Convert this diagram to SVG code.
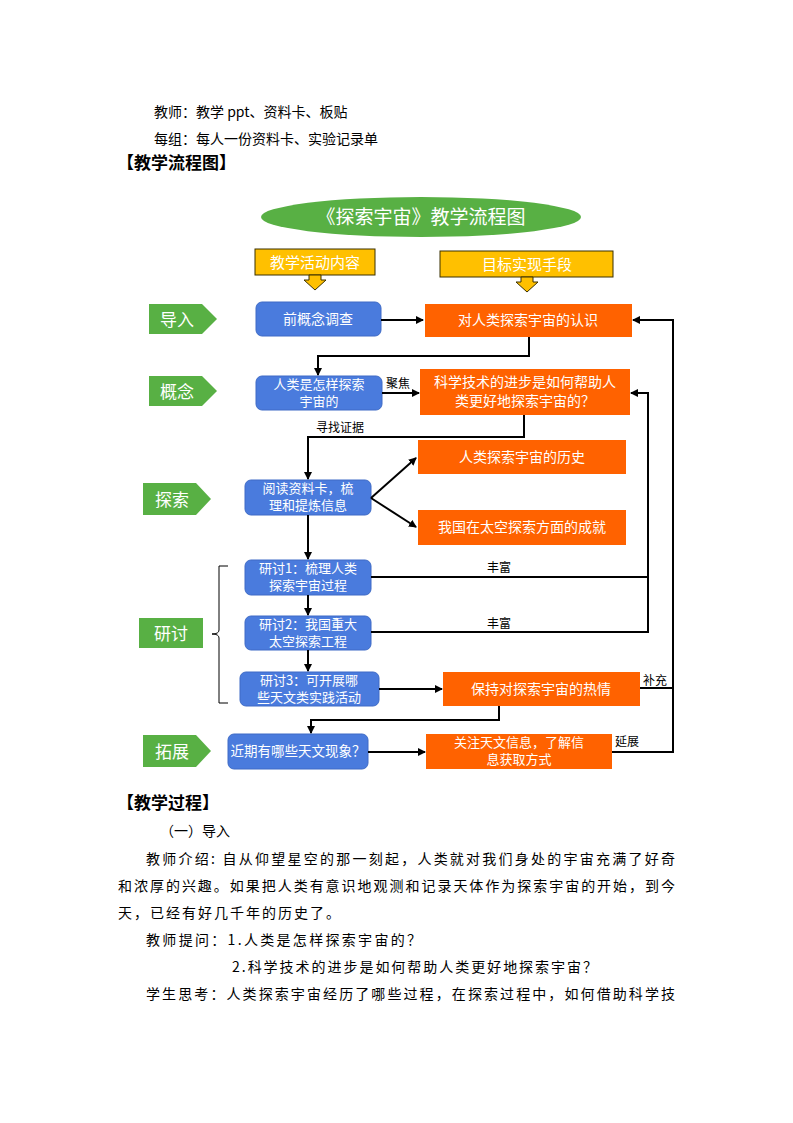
<svg xmlns="http://www.w3.org/2000/svg" width="793" height="1123" viewBox="0 0 793 1123">
<defs>
<style>
.body{font-family:"Noto Sans CJK SC","Liberation Serif",serif;font-size:14px;fill:#000}
.head{font-family:"Noto Sans CJK SC",sans-serif;font-size:17px;font-weight:bold;fill:#000}
.w{font-family:"Noto Sans CJK SC",sans-serif;fill:#fff;text-anchor:middle}
.t{font-size:14px}
.t2{font-size:13px}
.lbl{font-family:"Noto Sans CJK SC",sans-serif;font-size:12px;fill:#000}
.blue{fill:#4A7BDD;stroke:#3E6BC6;stroke-width:1}
.org{fill:#FF6200}
.grn{fill:#58B044}
.yel{fill:#FFC000;stroke:#3a3000;stroke-width:1}
.ln{fill:none;stroke:#000;stroke-width:2}
</style>
<marker id="ah" markerWidth="8" markerHeight="8" refX="7" refY="4" orient="auto" markerUnits="userSpaceOnUse">
<path d="M0,0 L8,4 L0,8 Z" fill="#000"/>
</marker>
</defs>
<rect width="793" height="1123" fill="#fff"/>

<text class="body" x="154" y="117">教师：教学 ppt、资料卡、板贴</text>
<text class="body" x="154" y="144">每组：每人一份资料卡、实验记录单</text>
<text class="head" x="117" y="169">【教学流程图】</text>

<g id="title"><ellipse cx="421" cy="217" rx="160" ry="20" class="grn"/><text class="w" x="421" y="224" font-size="19">《探索宇宙》教学流程图</text></g>

<g id="hdr1"><rect x="255" y="249" width="120" height="26" class="yel"/><text class="w" x="315" y="268" font-size="15">教学活动内容</text>
<path d="M309,275 h12 v5 h5 l-11,10 l-11,-10 h5 z" fill="#FFC000" stroke="#3a3000" stroke-width="1"/></g>
<g id="hdr2"><rect x="440" y="251" width="173" height="26" class="yel"/><text class="w" x="527" y="270" font-size="15">目标实现手段</text>
<path d="M521,277 h12 v5 h5 l-11,10 l-11,-10 h5 z" fill="#FFC000" stroke="#3a3000" stroke-width="1"/></g>

<g id="stage1"><path d="M149,304 h53 l15,15 l-15,15 h-53 z" class="grn"/><text class="w" x="177" y="326" font-size="17">导入</text></g>
<g id="stage2"><path d="M149,376 h53 l15,15 l-15,15 h-53 z" class="grn"/><text class="w" x="177" y="398" font-size="17">概念</text></g>
<g id="stage3"><path d="M143,483 h53 l15,16 l-15,16 h-53 z" class="grn"/><text class="w" x="172" y="506" font-size="17">探索</text></g>
<g id="stage4"><rect x="139" y="618" width="64" height="30" class="grn"/><text class="w" x="171" y="640" font-size="17">研讨</text></g>
<g id="stage5"><path d="M143,735 h53 l15,16 l-15,16 h-53 z" class="grn"/><text class="w" x="172" y="758" font-size="17">拓展</text></g>

<g id="b1"><rect x="256" y="302" width="125" height="34" rx="6" class="blue"/><text class="w t" x="318" y="324">前概念调查</text></g>
<g id="b2"><rect x="256" y="376" width="126" height="34" rx="6" class="blue"/><text class="w t2" x="319" y="389">人类是怎样探索<tspan x="319" dy="17">宇宙的</tspan></text></g>
<g id="b3"><rect x="245" y="480" width="126" height="35" rx="6" class="blue"/><text class="w t2" x="308" y="493">阅读资料卡，梳<tspan x="308" dy="17">理和提炼信息</tspan></text></g>
<g id="b4"><rect x="245" y="560" width="126" height="35" rx="6" class="blue"/><text class="w t2" x="308" y="573">研讨1：梳理人类<tspan x="308" dy="17">探索宇宙过程</tspan></text></g>
<g id="b5"><rect x="245" y="616" width="126" height="34" rx="6" class="blue"/><text class="w t2" x="308" y="629">研讨2：我国重大<tspan x="308" dy="17">太空探索工程</tspan></text></g>
<g id="b6"><rect x="240" y="672" width="139" height="34" rx="6" class="blue"/><text class="w t2" x="309" y="685">研讨3：可开展哪<tspan x="309" dy="17">些天文类实践活动</tspan></text></g>
<g id="b7"><rect x="228" y="734" width="140" height="35" rx="6" class="blue"/><text class="w" x="298" y="756" font-size="13.5">近期有哪些天文现象？</text></g>

<g id="o1"><rect x="425" y="304" width="207" height="33" class="org"/><text class="w t" x="528" y="325">对人类探索宇宙的认识</text></g>
<g id="o2"><rect x="420" y="369" width="210" height="46" class="org"/><text class="w t" x="525" y="387">科学技术的进步是如何帮助人<tspan x="525" dy="19">类更好地探索宇宙的？</tspan></text></g>
<g id="o3"><rect x="418" y="440" width="208" height="34" class="org"/><text class="w t" x="522" y="462">人类探索宇宙的历史</text></g>
<g id="o4"><rect x="418" y="510" width="208" height="35" class="org"/><text class="w t" x="522" y="532">我国在太空探索方面的成就</text></g>
<g id="o5"><rect x="443" y="672" width="197" height="34" class="org"/><text class="w t" x="541" y="694">保持对探索宇宙的热情</text></g>
<g id="o6"><rect x="426" y="734" width="186" height="35" class="org"/><text class="w t2" x="519" y="747">关注天文信息，了解信<tspan x="519" dy="17">息获取方式</tspan></text></g>

<g id="connectors">
<path class="ln" d="M381,320 H423" stroke-width="1.5" marker-end="url(#ah)"/>
<path class="ln" d="M529,337 V356 H318 V375" marker-end="url(#ah)"/>
<path class="ln" d="M382,393 H419" stroke-width="1.5" marker-end="url(#ah)"/>
<path class="ln" d="M524,415 V437 H308 V479" marker-end="url(#ah)"/>
<path class="ln" d="M371,498 L416,458" stroke-width="1.5" marker-end="url(#ah)"/>
<path class="ln" d="M371,498 L416,527" stroke-width="1.5" marker-end="url(#ah)"/>
<path class="ln" d="M308,515 V559" stroke-width="1.5" marker-end="url(#ah)"/>
<path class="ln" d="M308,595 V615" stroke-width="1.5" marker-end="url(#ah)"/>
<path class="ln" d="M308,650 V671" stroke-width="1.5" marker-end="url(#ah)"/>
<path class="ln" d="M371,577 H648" stroke-width="1.5"/>
<path class="ln" d="M371,632 H648 V393 H631" marker-end="url(#ah)"/>
<path class="ln" d="M379,689 H442" marker-end="url(#ah)"/>
<path class="ln" d="M640,688 H673" stroke-width="1.5"/>
<path class="ln" d="M612,752 H673 V320 H633" marker-end="url(#ah)"/>
<path class="ln" d="M499,706 V720 H311 V733" marker-end="url(#ah)"/>
<path class="ln" d="M368,752 H425" stroke-width="1.5" marker-end="url(#ah)"/>
<path d="M228,566 H219 V630 Q219,634 212,634 Q219,634 219,638 V703 H228" fill="none" stroke="#000" stroke-width="1"/>
<text class="lbl" x="386" y="388">聚焦</text>
<text class="lbl" x="316" y="432">寻找证据</text>
<text class="lbl" x="487" y="572">丰富</text>
<text class="lbl" x="487" y="628">丰富</text>
<text class="lbl" x="643" y="685">补充</text>
<text class="lbl" x="615" y="746">延展</text>
</g>

<text class="head" x="117" y="809">【教学过程】</text>
<text class="body" x="160" y="836">（一）导入</text>
<text class="body" x="146" y="864" textLength="529" lengthAdjust="spacing">教师介绍: 自从仰望星空的那一刻起，人类就对我们身处的宇宙充满了好奇</text>
<text class="body" x="118" y="891" textLength="557" lengthAdjust="spacing">和浓厚的兴趣。如果把人类有意识地观测和记录天体作为探索宇宙的开始，到今</text>
<text class="body" x="118" y="918" textLength="222" lengthAdjust="spacing">天，已经有好几千年的历史了。</text>
<text class="body" x="146" y="945" textLength="275" lengthAdjust="spacing">教师提问：1.人类是怎样探索宇宙的？</text>
<text class="body" x="232" y="972" textLength="365" lengthAdjust="spacing">2.科学技术的进步是如何帮助人类更好地探索宇宙？</text>
<text class="body" x="146" y="999" textLength="529" lengthAdjust="spacing">学生思考：人类探索宇宙经历了哪些过程，在探索过程中，如何借助科学技</text>
</svg>
